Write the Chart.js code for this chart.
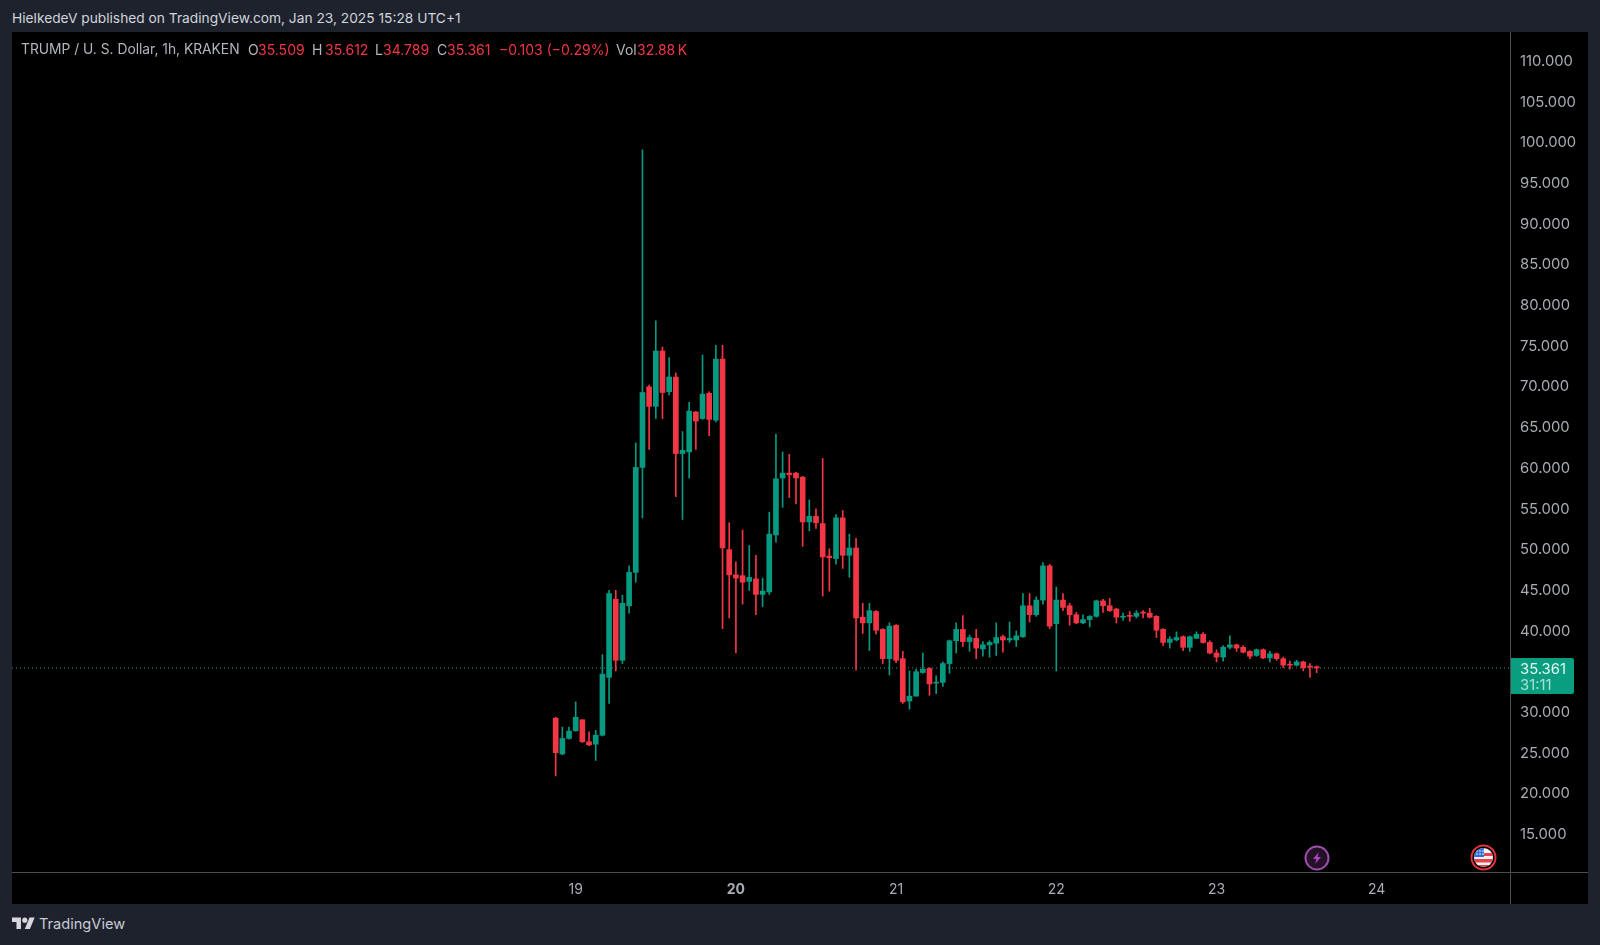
<!DOCTYPE html>
<html lang="en">
<head>
  <meta charset="UTF-8" />
  <title>TRUMP / U. S. Dollar, 1h, KRAKEN</title>
  <script src="https://cdn.jsdelivr.net/npm/chart.js"></script>
  <style>
    body {
      margin: 0;
      padding: 0;
      width: 1600px;
      height: 945px;
      overflow: hidden;
      background: #1e222d;
      font-family: Inter, Arial, sans-serif;
      font-size: 14px;
      position: relative;
    }

    .chart-container {
      position: absolute;
      left: 12px;
      top: 32px;
      width: 1576px;
      height: 872px;
      background: #000;
    }

    .published {
      position: absolute;
      left: 12px;
      top: 10px;
      color: #d1d4dc;
      font-size: 13.75px;
      line-height: 17px;
      white-space: nowrap;
    }

    .legend {
      position: absolute;
      left: 21px;
      top: 41px;
      color: #b2b5be;
      line-height: 17px;
      white-space: nowrap;
    }

    .legend span { position: absolute; top: 0; }
    .legend .down { color: #f23645; }

    .last-price {
      position: absolute;
      left: 1511px;
      top: 658px;
      width: 63px;
      height: 36px;
      background: #0a9e80;
      border-radius: 0 2px 2px 0;
      color: #e6f5f1;
      font-size: 14.8px;
      line-height: 16px;
      padding-top: 3px;
      box-sizing: border-box;
      text-indent: 9px;
    }

    .last-price div + div { color: #a8e0d2; }

    .logo {
      position: absolute;
      left: 12px;
      top: 915px;
      display: flex;
      align-items: center;
      color: #c8cbd3;
      font-size: 14.6px;
    }

    .logo svg { margin-right: 4px; }
    .marker { position: absolute; }
  </style>
</head>
<body>

  <div class="published">HielkedeV published on TradingView.com, Jan 23, 2025 15:28 UTC+1</div>

  <div class="chart-container"><canvas id="candleChart"></canvas></div>

  <div class="legend">
    <span style="left:0;font-size:13.8px">TRUMP&nbsp;/&nbsp;U.&nbsp;S.&nbsp;Dollar,&nbsp;1h,&nbsp;KRAKEN</span>
    <span style="left:227px">O</span><span class="down" style="left:237px">35.509</span>
    <span style="left:291px">H</span><span class="down" style="left:304px">35.612</span>
    <span style="left:354px">L</span><span class="down" style="left:362px">34.789</span>
    <span style="left:416px">C</span><span class="down" style="left:426px">35.361</span>
    <span class="down" style="left:478px">−0.103&nbsp;(−0.29%)</span>
    <span style="left:595px">Vol</span><span class="down" style="left:616px">32.88&#8201;K</span>
  </div>

  <div class="last-price"><div>35.361</div><div>31:11</div></div>

  <svg class="marker" style="left:1304px;top:845px" width="26" height="26" viewBox="0 0 26 26">
    <circle cx="13" cy="13" r="11.5" fill="#241029" stroke="#9a4fa8" stroke-width="2" />
    <path d="M15 7l-6 7h3.5l-1.5 5 6-7h-3.5z" fill="#ab47bc" />
  </svg>

  <svg class="marker" style="left:1470px;top:844px" width="27" height="27" viewBox="0 0 27 27">
    <defs><clipPath id="flagClip"><circle cx="13.5" cy="13.5" r="9.5" /></clipPath></defs>
    <circle cx="13.5" cy="13.5" r="12" fill="#000" stroke="#e0323f" stroke-width="2" />
    <g clip-path="url(#flagClip)">
      <rect x="3" y="3" width="21" height="21" fill="#f4f4f4" />
      <rect x="3" y="9" width="21" height="3" fill="#e8434f" />
      <rect x="3" y="15" width="21" height="3.5" fill="#e8434f" />
      <rect x="3" y="21" width="21" height="3" fill="#e8434f" />
      <rect x="3" y="3" width="11" height="10" fill="#2f6fd6" />
      <circle cx="7" cy="7" r="0.8" fill="#fff" /><circle cx="10" cy="7" r="0.8" fill="#fff" />
      <circle cx="7" cy="10" r="0.8" fill="#fff" /><circle cx="10" cy="10" r="0.8" fill="#fff" />
      <circle cx="13" cy="7" r="0.8" fill="#fff" /><circle cx="13" cy="10" r="0.8" fill="#fff" />
    </g>
  </svg>

  <div class="logo">
    <svg width="23" height="18" viewBox="0 0 36 28" fill="#d6d8de">
      <path d="M14 22H7V11H0V4h14v18zM28 22h-8l7.5-18h8L28 22z" />
      <circle cx="20" cy="8" r="4" />
    </svg>
    <span>TradingView</span>
  </div>

  <script>
    // hourly candles. first candle is 3h before the 19th
    const firstHour = -3;

    const opens = [
      29.2, 24.8, 26.7, 27.65, 29.0, 26.3, 26.0, 27.1, 34.2, 43.8,
      36.3, 43.0, 47.1, 60.0, 69.9, 67.5, 74.3, 69.3, 71.1, 61.7,
      61.9, 66.8, 66.0, 69.1, 65.8, 73.3, 49.9, 46.8, 46.7, 46.0,
      46.3, 44.4, 44.7, 51.7, 58.7, 59.3, 59.3, 58.8, 53.3, 54.0,
      53.1, 49.1, 48.8, 53.8, 49.2, 50.1, 41.6, 40.9, 42.3, 40.1,
      36.5, 40.6, 36.5, 31.3, 31.9, 34.8, 35.3, 33.5, 33.6, 35.9,
      38.7, 40.1, 38.6, 39.0, 37.7, 38.2, 38.4, 39.2, 38.8, 38.8,
      39.2, 43.0, 41.9, 43.7, 47.9, 40.8, 43.7, 43.0, 41.9, 40.9,
      41.3, 41.7, 43.6, 43.0, 42.6, 41.6, 41.8, 41.7, 42.2, 42.1,
      41.7, 40.1, 38.5, 38.8, 39.2, 37.9, 39.0, 39.5, 38.5, 37.2,
      36.7, 37.9, 38.2, 37.9, 37.4, 36.9, 37.6, 36.6, 37.1, 36.5,
      35.8, 35.7, 36.1, 35.6, 35.509
    ];

    const highs = [
      29.3, 28.1, 28.1, 31.2, 29.0, 27.5, 27.7, 37.0, 44.9, 44.9,
      44.3, 47.9, 63.0, 99.0, 70.1, 78.0, 74.8, 73.5, 71.6, 64.4,
      68.0, 66.9, 73.8, 69.3, 75.0, 75.0, 53.2, 48.4, 52.3, 50.4,
      49.2, 46.4, 54.5, 64.1, 61.9, 61.6, 59.4, 58.9, 56.0, 54.9,
      61.1, 50.0, 54.2, 54.7, 51.8, 51.3, 43.3, 43.3, 42.4, 40.2,
      40.9, 40.7, 37.4, 35.0, 35.2, 37.2, 35.4, 34.4, 36.1, 38.8,
      40.9, 41.8, 39.4, 40.1, 38.6, 38.7, 40.9, 39.4, 41.0, 39.9,
      44.5, 44.5, 44.1, 48.3, 48.1, 45.3, 44.5, 43.3, 42.2, 41.9,
      41.8, 43.7, 43.8, 43.9, 42.7, 42.1, 42.3, 42.4, 42.4, 42.7,
      41.8, 40.2, 39.2, 39.8, 39.3, 39.3, 39.8, 39.7, 38.7, 37.6,
      38.1, 39.3, 38.3, 38.1, 37.5, 37.7, 37.7, 37.4, 37.2, 36.7,
      36.2, 36.3, 36.2, 35.9, 35.612
    ];

    const lows = [
      22.1, 24.7, 26.6, 27.6, 26.2, 25.8, 24.0, 27.0, 31.0, 35.0,
      35.9, 42.1, 45.9, 53.8, 62.2, 66.0, 66.0, 68.9, 56.4, 53.6,
      58.7, 62.2, 65.9, 63.9, 65.6, 40.2, 41.5, 37.2, 43.2, 44.9,
      41.9, 42.9, 44.4, 50.8, 55.1, 56.3, 55.5, 50.3, 52.2, 52.5,
      44.2, 44.8, 48.1, 47.6, 46.5, 35.1, 39.6, 37.5, 39.5, 35.9,
      34.5, 36.0, 31.0, 30.3, 31.9, 34.7, 32.0, 32.2, 33.1, 34.7,
      37.2, 38.0, 37.4, 36.5, 36.8, 36.7, 36.9, 37.3, 38.5, 38.0,
      39.1, 41.0, 41.7, 43.2, 40.2, 35.0, 42.4, 40.6, 40.8, 40.8,
      40.4, 41.6, 42.2, 42.3, 40.9, 41.2, 41.1, 41.5, 41.5, 41.5,
      39.1, 38.1, 37.8, 38.7, 37.5, 37.4, 39.0, 38.4, 37.1, 36.1,
      36.2, 37.7, 37.4, 37.2, 36.5, 36.8, 36.5, 36.1, 36.3, 35.4,
      35.2, 35.6, 35.0, 34.2, 34.789
    ];

    const closes = [
      24.95, 26.7, 27.6, 29.3, 26.3, 25.9, 27.1, 34.6, 44.5, 36.3,
      43.3, 47.1, 60.0, 69.2, 67.5, 74.3, 69.2, 71.1, 61.7, 62.1,
      66.9, 65.7, 69.0, 65.9, 73.3, 50.1, 46.8, 46.4, 45.9, 46.5,
      44.4, 44.8, 51.8, 58.6, 59.3, 59.1, 58.7, 53.3, 54.0, 53.2,
      49.0, 48.9, 53.8, 49.2, 50.1, 41.5, 40.9, 42.4, 40.0, 36.5,
      40.5, 36.3, 31.2, 31.9, 34.9, 35.2, 33.4, 33.6, 35.9, 38.7,
      40.1, 38.6, 39.1, 37.8, 38.2, 38.5, 39.1, 38.8, 39.0, 39.3,
      43.0, 41.9, 43.7, 47.9, 40.5, 43.7, 42.8, 41.9, 40.9, 41.3,
      41.7, 43.6, 43.0, 42.4, 41.6, 41.7, 41.7, 42.1, 42.1, 41.6,
      40.0, 38.5, 38.9, 39.1, 37.9, 39.2, 39.5, 38.5, 37.2, 36.7,
      37.9, 38.2, 37.8, 37.3, 36.8, 37.6, 36.6, 37.1, 36.5, 35.7,
      35.7, 36.1, 35.4, 35.46, 35.361
    ];

    const lastPrice = 35.361;

    const priceTicks = [15, 20, 25, 30, 40, 45, 50, 55, 60, 65, 70, 75, 80, 85, 90, 95, 100, 105, 110];
    const dayTicks = [19, 20, 21, 22, 23, 24];
    const boldDay = 20;

    const xRange = [-84.45, 139.97];
    const yRange = [10.295, 113.49];

    const green = '#089981';
    const red = '#f23645';
    const axisText = '#a9acb3';
    const lineColor = '#4a4c50';

    const colors = opens.map((o, i) => closes[i] >= o ? green : red);
    const hourOf = i => firstHour + i;

    // axis lines run the whole way across the pane, so they go in here
    const paneLines = {
      id: 'paneLines',
      afterDraw(chart) {
        const { ctx, chartArea, width, height } = chart;
        ctx.save();
        ctx.strokeStyle = lineColor;
        ctx.lineWidth = 1;
        ctx.beginPath();
        ctx.moveTo(0, chartArea.bottom + 0.5);
        ctx.lineTo(width, chartArea.bottom + 0.5);
        ctx.moveTo(chartArea.right + 0.5, 0);
        ctx.lineTo(chartArea.right + 0.5, height);
        ctx.stroke();
        ctx.restore();
      }
    };

    new Chart(document.getElementById('candleChart').getContext('2d'), {
      type: 'bar',
      data: {
        datasets: [
          {
            label: 'Body',
            data: opens.map((o, i) => ({ x: hourOf(i), y: [o, closes[i]] })),
            backgroundColor: colors,
            barThickness: 5,
            minBarLength: 1,
            grouped: false,
            order: 1
          },
          {
            label: 'Wick',
            data: lows.map((l, i) => ({ x: hourOf(i), y: [l, highs[i]] })),
            backgroundColor: colors,
            barThickness: 1,
            grouped: false,
            order: 2
          },
          {
            type: 'line',
            label: 'Last',
            data: xRange.map(x => ({ x: x, y: lastPrice })),
            borderColor: '#16a085',
            borderWidth: 1,
            borderDash: [1, 3],
            pointRadius: 0,
            order: 3
          }
        ]
      },
      options: {
        responsive: true,
        maintainAspectRatio: false,
        animation: false,
        layout: { padding: 0 },
        scales: {
          x: {
            type: 'linear',
            offset: false,
            min: xRange[0],
            max: xRange[1],
            grid: { display: false, drawTicks: false },
            border: { display: false },
            afterBuildTicks: axis => { axis.ticks = dayTicks.map(d => ({ value: (d - 19) * 24 })); },
            afterFit: axis => {
              axis.height = 32;
              axis.paddingLeft = 0;
              axis.paddingRight = 0;
            },
            ticks: {
              color: axisText,
              maxRotation: 0,
              autoSkip: false,
              padding: 9,
              font: ctx => ({ family: 'Inter', size: 14, weight: ctx.tick && ctx.tick.value / 24 + 19 === boldDay ? 'bold' : 'normal' }),
              callback: v => String(v / 24 + 19)
            }
          },
          y: {
            position: 'right',
            min: yRange[0],
            max: yRange[1],
            grid: { display: false, drawTicks: false },
            border: { display: false },
            afterBuildTicks: axis => { axis.ticks = priceTicks.map(v => ({ value: v })); },
            afterFit: axis => {
              axis.width = 78;
              axis.paddingTop = 0;
              axis.paddingBottom = 0;
            },
            ticks: {
              color: axisText,
              autoSkip: false,
              padding: 10,
              labelOffset: 1,
              font: { family: 'Inter', size: 14.8 },
              callback: v => v.toFixed(3)
            }
          }
        },
        plugins: {
          legend: { display: false },
          tooltip: { enabled: false }
        }
      },
      plugins: [paneLines]
    });
  </script>

</body>
</html>
